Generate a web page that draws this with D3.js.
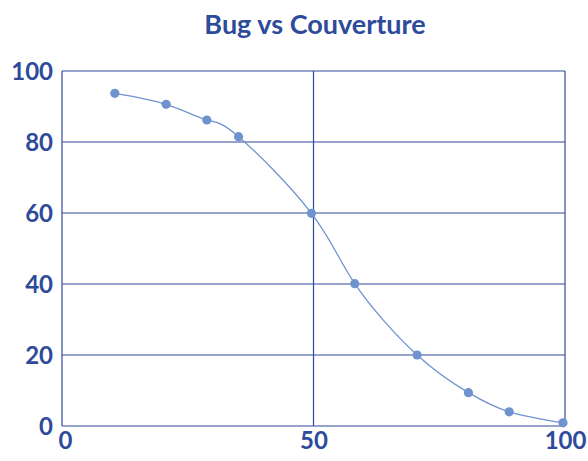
<!DOCTYPE html>
<html>
<head>
<meta charset="utf-8">
<script src="https://cdn.jsdelivr.net/npm/d3@7"></script>
<style>
  html, body { margin: 0; padding: 0; background: #ffffff; }
  svg { display: block; }
</style>
</head>
<body>
<svg id="chart" width="588" height="461"></svg>
<script>
// Coverage (%) vs remaining bugs (%)
const coverage = [10.5, 20.7, 28.8, 35.1, 49.6, 58.2, 70.6, 80.8, 88.9, 99.6];
const bugs     = [93.7, 90.6, 86.2, 81.5, 59.9, 40.1, 20.0, 9.4, 4.0, 0.9];
const xTicks = [0, 50, 100];
const yTicks = [0, 20, 40, 60, 80, 100];
const title = "Bug vs Couverture";

const W = 588, H = 461;
const margin = { top: 71, right: 23, bottom: 35, left: 62 };
const axisColor = "#2E4A9B";
const markColor = "#6F93CF";
const font = "Lato, 'Open Sans', sans-serif";

const svg = d3.select("#chart");
const x = d3.scaleLinear().domain([0, 100]).range([margin.left, W - margin.right]);
const y = d3.scaleLinear().domain([0, 100]).range([H - margin.bottom, margin.top]);

// Title
svg.append("text")
  .attr("x", 315).attr("y", 34)
  .attr("text-anchor", "middle")
  .attr("font-family", font).attr("font-weight", 700)
  .attr("font-size", 27).attr("fill", axisColor)
  .text(title);

// Horizontal gridlines
svg.append("g").selectAll("line").data(yTicks).join("line")
  .attr("x1", x(0)).attr("x2", x(100))
  .attr("y1", d => y(d)).attr("y2", d => y(d))
  .attr("stroke", axisColor).attr("stroke-width", 1.2);

// Vertical gridlines
svg.append("g").selectAll("line").data(xTicks).join("line")
  .attr("x1", d => x(d)).attr("x2", d => x(d))
  .attr("y1", y(0)).attr("y2", y(100))
  .attr("stroke", axisColor).attr("stroke-width", 1.2);

// Y-axis tick labels
const yAxis = d3.axisLeft(y).tickValues(yTicks).tickSize(0).tickPadding(9);
svg.append("g").attr("transform", `translate(${x(0)},0)`).call(yAxis)
  .call(g => g.select(".domain").remove())
  .call(g => g.selectAll("text")
    .attr("font-family", font).attr("font-weight", 700)
    .attr("font-size", 24).attr("fill", axisColor).attr("dy", "0.36em"));

// X-axis tick labels
const xAxis = d3.axisBottom(x).tickValues(xTicks).tickSize(0).tickPadding(6);
svg.append("g").attr("transform", `translate(0,${y(0)})`).call(xAxis)
  .call(g => g.select(".domain").remove())
  .call(g => g.selectAll("text")
    .attr("font-family", font).attr("font-weight", 700)
    .attr("font-size", 24).attr("fill", axisColor)
    .attr("dx", d => d === 0 ? 3 : 0));

// Smoothed curve
const pts = coverage.map((c, i) => [c, bugs[i]]);
const line = d3.line()
  .x(d => x(d[0])).y(d => y(d[1]))
  .curve(d3.curveNatural);
svg.append("path").datum(pts)
  .attr("d", line).attr("fill", "none")
  .attr("stroke", markColor).attr("stroke-width", 1.3);

// Markers
svg.append("g").selectAll("circle").data(pts).join("circle")
  .attr("cx", d => x(d[0])).attr("cy", d => y(d[1]))
  .attr("r", 4.6).attr("fill", markColor);
</script>
</body>
</html>
